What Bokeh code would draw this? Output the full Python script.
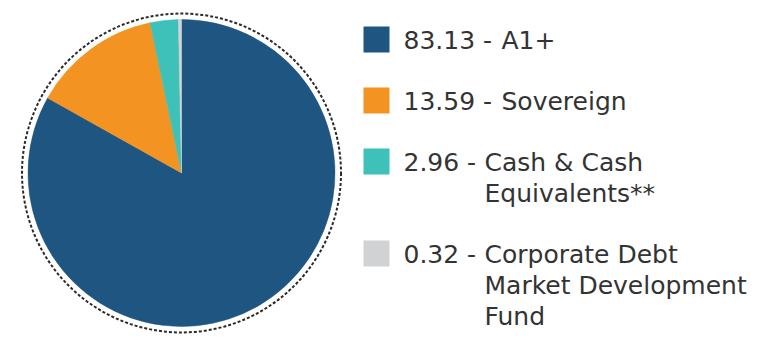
import math
from bokeh.plotting import figure
from bokeh.models import Range1d, ColumnDataSource
from bokeh.core.properties import value
from bokeh.embed import file_html
from bokeh.resources import INLINE

# ---- data ----
categories = ["A1+", "Sovereign", "Cash & Cash\nEquivalents**", "Corporate Debt\nMarket Development\nFund"]
shares = [83.13, 13.59, 2.96, 0.32]
colors = ["#1F5581", "#F39322", "#3DC1B8", "#D1D2D4"]

W, H = 778, 354
p = figure(width=W, height=H, output_backend="svg", toolbar_location=None,
           x_range=Range1d(0, W), y_range=Range1d(H, 0), min_border=0,
           outline_line_color=None, background_fill_color="white")
p.axis.visible = False
p.grid.visible = False

# ---- pie (clockwise from 12 o'clock) ----
cx, cy, r = 181, 172.5, 153.5
total = sum(shares)
starts, ends = [], []
acc = 0.0
for s in shares:
    a0 = math.pi / 2 - acc / total * 2 * math.pi
    acc += s
    a1 = math.pi / 2 - acc / total * 2 * math.pi
    starts.append(a1)
    ends.append(a0)
src = ColumnDataSource(dict(start=starts, end=ends, color=colors))
p.wedge(x=cx, y=cy, radius=r, start_angle="start", end_angle="end",
        fill_color="color", line_color="color", line_width=0.5, source=src)
p.circle(x=cx, y=cy, radius=r + 6, fill_color=None, line_color="#2a2a2a",
         line_width=2, line_dash="3 2")

# ---- legend ----
sq_x, sq = 376, 26
txt_x = 403
row0, row_gap, line_h = 39, 61, 31
font = value("DejaVu Sans")
extra = 0
sq_y = []
px, py, pt = [], [], []
tx, ty, tt = [], [], []
for cat, s in zip(categories, shares):
    y = row0 + row_gap * len(sq_y) + line_h * extra
    sq_y.append(y)
    prefix = f"{s:.2f} -"
    ndig = len(str(int(s)))
    lab_x = txt_x + 81 + 17 * (ndig - 1)
    px.append(txt_x); py.append(y + 1); pt.append(prefix)
    lines = cat.split("\n")
    for k, ln in enumerate(lines):
        tx.append(lab_x); tt.append(ln); ty.append(y + 1 + k * line_h)
    extra += len(lines) - 1

p.rect(x=[sq_x] * len(sq_y), y=sq_y, width=sq, height=sq, fill_color=colors, line_color=None)
for xs, ys, ts in ((px, py, pt), (tx, ty, tt)):
    p.text(x=xs, y=ys, text=ts, text_font=font, text_font_size="25px",
           text_color="#333333", text_baseline="middle", text_align="left")

open("out.html", "w").write(file_html(p, INLINE))
